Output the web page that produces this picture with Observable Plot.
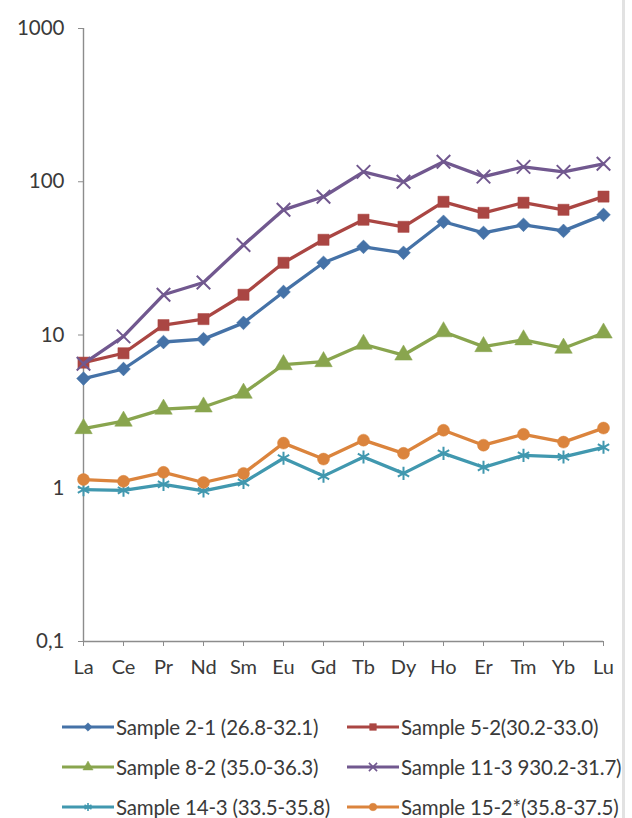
<!DOCTYPE html>
<html>
<head>
<meta charset="utf-8">
<script src="https://cdn.jsdelivr.net/npm/d3@7"></script>
<script src="https://cdn.jsdelivr.net/npm/@observablehq/plot@0.6"></script>
<style>
  html, body { margin: 0; padding: 0; background: #fff; }
  #wrap { position: relative; width: 632px; height: 818px; font-family: Lato, "Open Sans", sans-serif; color: #3a3a3a; overflow: hidden; }
  #border { position: absolute; left: 622px; top: 0; width: 3px; height: 818px; background: #e2e2e2; }
  #legend { position: absolute; left: 0; top: 706px; width: 632px; }
  .li { position: absolute; display: flex; align-items: center; height: 24px; font-size: 20.5px; white-space: nowrap; letter-spacing: -0.2px; }
  .li svg { flex: none; }
</style>
</head>
<body>
<div id="wrap">
  <div id="chart"></div>
  <div id="legend"></div>
  <div id="border"></div>
</div>
<script>
// ---- data ----
const elements = ["La","Ce","Pr","Nd","Sm","Eu","Gd","Tb","Dy","Ho","Er","Tm","Yb","Lu"];
const seriesNames = [
  "Sample 2-1 (26.8-32.1)",
  "Sample 5-2(30.2-33.0)",
  "Sample 8-2 (35.0-36.3)",
  "Sample 11-3 930.2-31.7)",
  "Sample 14-3 (33.5-35.8)",
  "Sample 15-2*(35.8-37.5)"
];
const s2_1  = [5.2, 6.0, 9.0, 9.4, 12.0, 19.1, 29.6, 37.6, 34.4, 54.8, 46.4, 52.4, 47.8, 60.8];
const s5_2  = [6.6, 7.6, 11.6, 12.7, 18.3, 29.6, 41.8, 56.5, 50.8, 74, 62.7, 73, 65.6, 80];
const s8_2  = [2.45, 2.74, 3.28, 3.39, 4.17, 6.4, 6.7, 8.7, 7.4, 10.5, 8.4, 9.3, 8.2, 10.3];
const s11_3 = [6.5, 9.8, 18.3, 22, 38.7, 65.6, 79.8, 116, 100, 135, 108, 125, 116, 131];
const s14_3 = [0.98, 0.97, 1.06, 0.96, 1.09, 1.57, 1.2, 1.6, 1.25, 1.69, 1.37, 1.64, 1.6, 1.85];
const s15_2 = [1.14, 1.11, 1.27, 1.09, 1.25, 1.97, 1.55, 2.06, 1.69, 2.39, 1.91, 2.25, 2.0, 2.47];
const yTicks = [0.1, 1, 10, 100, 1000];
const yTickLabels = ["0,1", "1", "10", "100", "1000"];

// ---- styles ----
const colors  = ["#4572A7", "#AA4643", "#89A54E", "#71588F", "#4198AF", "#DB843D"];
const symbols = ["diamond2", "square", "triangle", "times", "asterisk", "circle"];
const filled  = [true, true, true, false, false, true];
const radii   = [6.2, 6.3, 6.5, 6.2, 6.2, 6];

const allSeries = [s2_1, s5_2, s8_2, s11_3, s14_3, s15_2];
const rows = [];
allSeries.forEach((vals, si) => {
  vals.forEach((v, i) => rows.push({series: seriesNames[si], si, el: elements[i], value: v}));
});

const marks = [
  Plot.ruleX([elements[0]], {stroke: "#8c8c8c", strokeWidth: 1.4}),
  Plot.ruleY([0.1], {stroke: "#8c8c8c", strokeWidth: 1.4}),
  Plot.axisY({ticks: yTicks, tickFormat: d => yTickLabels[yTicks.indexOf(d)], tickSize: 5, tickPadding: 14, stroke: "#8c8c8c", fontSize: 20.5, label: null}),
  Plot.axisX({tickSize: 5, tickPadding: 13, stroke: "#8c8c8c", fontSize: 20, label: null})
];
allSeries.forEach((vals, si) => {
  const data = rows.filter(d => d.si === si);
  marks.push(Plot.line(data, {x: "el", y: "value", stroke: colors[si], strokeWidth: 3.3, curve: "linear"}));
  marks.push(Plot.dot(data, {
    x: "el", y: "value", symbol: () => symbols[si], r: radii[si],
    fill: filled[si] ? colors[si] : "none",
    stroke: colors[si], strokeWidth: filled[si] ? 0.5 : 2
  }));
});

const chart = Plot.plot({
  width: 632, height: 700,
  marginLeft: 83, marginRight: 29, marginTop: 28, marginBottom: 59,
  style: {fontFamily: "Lato, 'Open Sans', sans-serif", fontSize: "20px", color: "#3a3a3a", background: "transparent"},
  x: {type: "point", domain: elements, padding: 0, label: null},
  y: {type: "log", domain: [0.1, 1000], label: null},
  symbol: {type: "identity"},
  marks
});
document.getElementById("chart").appendChild(chart);

// ---- legend ----
const legend = document.getElementById("legend");
const legendPos = [[60, 9], [345, 9], [60, 49], [345, 49], [60, 89], [345, 89]];
seriesNames.forEach((name, si) => {
  const item = document.createElement("div");
  item.className = "li";
  item.style.left = legendPos[si][0] + "px";
  item.style.top = legendPos[si][1] + "px";
  const w = 56, h = 20;
  const svg = d3.create("svg").attr("width", w).attr("height", h);
  svg.append("line").attr("x1", 2).attr("x2", w - 2).attr("y1", h / 2).attr("y2", h / 2)
     .attr("stroke", colors[si]).attr("stroke-width", 3);
  const symMap = {diamond2: d3.symbolDiamond2, square: d3.symbolSquare, triangle: d3.symbolTriangle,
                  times: d3.symbolTimes, asterisk: d3.symbolAsterisk, circle: d3.symbolCircle};
  svg.append("path").attr("d", d3.symbol(symMap[symbols[si]], 45)())
     .attr("transform", `translate(${w / 2},${h / 2})`)
     .attr("fill", filled[si] ? colors[si] : "none")
     .attr("stroke", colors[si]).attr("stroke-width", filled[si] ? 0.5 : 1.6);
  item.appendChild(svg.node());
  const span = document.createElement("span");
  span.textContent = name;
  item.appendChild(span);
  legend.appendChild(item);
});
</script>
</body>
</html>
